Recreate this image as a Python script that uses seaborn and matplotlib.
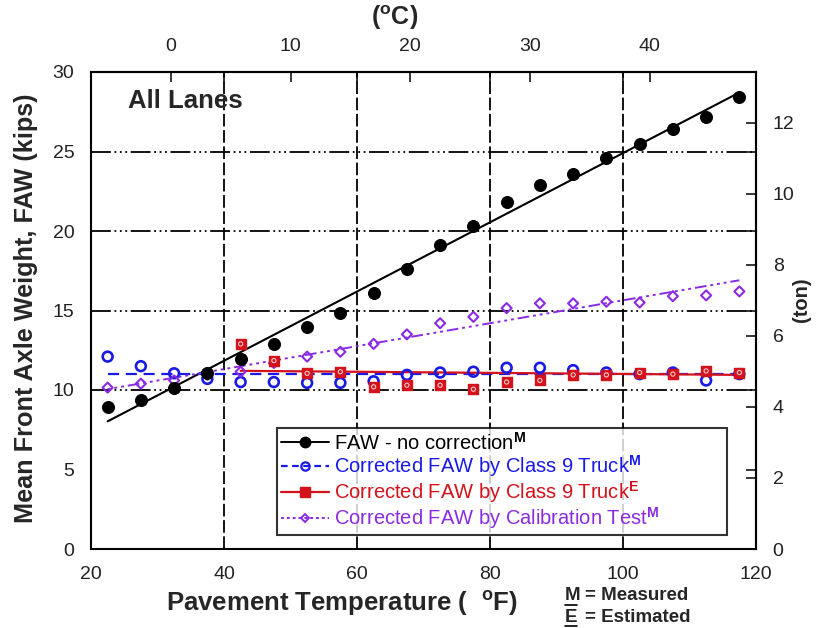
import numpy as np
import pandas as pd
import matplotlib
matplotlib.use("Agg")
import matplotlib.pyplot as plt
from matplotlib.lines import Line2D
import seaborn as sns

# ---------------- data ----------------
temp_f = [22.5, 27.5, 32.5, 37.5, 42.5, 47.5, 52.5, 57.5, 62.5, 67.5,
          72.5, 77.5, 82.5, 87.5, 92.5, 97.5, 102.5, 107.5, 112.5, 117.5]
faw_no_corr = [8.9, 9.4, 10.15, 11.05, 11.95, 12.9, 13.95, 14.85, 16.1, 17.6,
               19.1, 20.3, 21.8, 22.9, 23.6, 24.6, 25.5, 26.4, 27.2, 28.4]
faw_class9_meas = [12.1, 11.5, 11.05, 10.7, 10.5, 10.5, 10.45, 10.45, 10.55, 10.95,
                   11.1, 11.15, 11.4, 11.4, 11.25, 11.1, 11.0, 11.1, 10.6, 11.0]
temp_f_est = [42.5, 47.5, 52.5, 57.5, 62.5, 67.5, 72.5, 77.5,
              82.5, 87.5, 92.5, 97.5, 102.5, 107.5, 112.5, 117.5]
faw_class9_est = [12.9, 11.85, 11.05, 11.15, 10.2, 10.3, 10.3, 10.05,
                  10.5, 10.6, 10.95, 10.95, 11.1, 11.0, 11.2, 11.1]
faw_calib = [10.15, 10.4, 10.6, 10.95, 11.15, 11.7, 12.1, 12.4, 12.9, 13.5,
             14.2, 14.6, 15.15, 15.45, 15.45, 15.55, 15.5, 15.9, 15.95, 16.2]

# trend line coefficients (intercept, slope)
fit_no_corr = (3.13, 0.2177)
fit_class9_meas = (11.0, 0.0)
fit_class9_est = (11.35, -0.0034)
fit_calib = (8.43, 0.0721)

x_ticks = [20, 40, 60, 80, 100, 120]
y_ticks = [0, 5, 10, 15, 20, 25, 30]
c_ticks = [0, 10, 20, 30, 40]
ton_ticks = [0, 2, 4, 6, 8, 10, 12]
v_grid = [40, 60, 80, 100]
h_grid = [10, 15, 20, 25]
KIPS_PER_TON = 2.233

labels = [r"FAW - no correction$^{\mathbf{M}}$",
          r"Corrected FAW by Class 9 Truck$^{\mathbf{M}}$",
          r"Corrected FAW by Class 9 Truck$^{\mathbf{E}}$",
          r"Corrected FAW by Calibration Test$^{\mathbf{M}}$"]

BLACK = "#000000"
BLUE = "#1a1ae6"
RED = "#d3121c"
PURPLE = "#8a2be2"

# ---------------- style ----------------
sns.set_theme(style="white")
plt.rcParams["font.family"] = ["Liberation Sans", "DejaVu Sans"]
plt.rcParams["mathtext.fontset"] = "custom"
plt.rcParams["mathtext.rm"] = "Liberation Sans"
plt.rcParams["mathtext.bf"] = "Liberation Sans:bold"

fig = plt.figure(figsize=(8.17, 6.28), dpi=100)
ax = fig.add_axes([91 / 817, 1 - 549 / 628, 665 / 817, 477 / 628])

# grid lines
for gx in v_grid:
    ax.axvline(gx, color="black", lw=1.3, linestyle=(0, (7, 2)), zorder=1)
for gy in h_grid:
    ax.axhline(gy, color="black", lw=1.3, linestyle=(0, (11, 2, 1, 2, 1, 2, 1, 2)), zorder=1)

df = pd.DataFrame({"T": temp_f, "no": faw_no_corr, "c9m": faw_class9_meas, "cal": faw_calib})
dfe = pd.DataFrame({"T": temp_f_est, "c9e": faw_class9_est})

def fit_df(xs, coef):
    xs = np.asarray(xs, dtype=float)
    return pd.DataFrame({"T": xs, "y": coef[0] + coef[1] * xs})

# fit lines
sns.lineplot(data=fit_df(temp_f, fit_no_corr), x="T", y="y", ax=ax, color=BLACK, lw=1.5, zorder=3)
sns.lineplot(data=fit_df(temp_f, fit_class9_meas), x="T", y="y", ax=ax, color=BLUE, lw=1.6,
             linestyle=(0, (5, 3)), zorder=3)
sns.lineplot(data=fit_df(temp_f_est, fit_class9_est), x="T", y="y", ax=ax, color=RED, lw=1.6, zorder=3)
sns.lineplot(data=fit_df(temp_f, fit_calib), x="T", y="y", ax=ax, color=PURPLE, lw=1.4,
             linestyle=(0, (1.5, 2, 1.5, 2, 1.5, 2, 6, 2)), zorder=3)

# points
sns.scatterplot(data=df, x="T", y="c9m", ax=ax, marker="o", s=50, facecolor="none",
                edgecolor=BLUE, linewidth=1.9, zorder=4)
sns.scatterplot(data=df, x="T", y="cal", ax=ax, marker="D", s=26, facecolor="none",
                edgecolor=PURPLE, linewidth=1.5, zorder=4)
sns.scatterplot(data=dfe, x="T", y="c9e", ax=ax, marker="s", s=60, color=RED,
                edgecolor=RED, linewidth=1.0, zorder=5)
sns.scatterplot(data=dfe, x="T", y="c9e", ax=ax, marker="o", s=9, facecolor="none",
                edgecolor="#f6caca", linewidth=0.8, zorder=6)
sns.scatterplot(data=df, x="T", y="no", ax=ax, marker="o", s=75, color=BLACK,
                edgecolor=BLACK, zorder=6)

ax.set_xlim(20, 120)
ax.set_ylim(0, 30)
ax.set_xticks(x_ticks)
ax.set_yticks(y_ticks)
ax.tick_params(axis="both", direction="in", length=7, width=1.3, labelsize=14,
               top=True, right=True, labelcolor="#222222", pad=12)
for sp in ax.spines.values():
    sp.set_linewidth(1.5)
    sp.set_color("black")

ax.set_xlabel(r"Pavement Temperature (  $^{\mathbf{o}}$F)", fontsize=18.5, fontweight="bold")
ax.xaxis.set_label_coords(0.378, -0.083)
ax.set_ylabel("Mean Front Axle Weight, FAW (kips)", fontsize=18.2, fontweight="bold")
ax.yaxis.set_label_coords(-0.079, 0.505)

# top axis in degC
secx = ax.secondary_xaxis("top", functions=(lambda f: (f - 32) / 1.8, lambda c: c * 1.8 + 32))
secx.set_xticks(c_ticks)
secx.tick_params(direction="in", length=7, width=1.3, labelsize=14, labelcolor="#222222", pad=12)
secx.spines["top"].set_linewidth(1.5)
fig.text(395 / 817, 1 - 18 / 628, r"($^{\mathbf{o}}$C)", fontsize=18, fontweight="bold",
         ha="center", va="center")

# right axis in ton
secy = ax.secondary_yaxis("right", functions=(lambda k: k / KIPS_PER_TON, lambda t: t * KIPS_PER_TON))
secy.set_yticks(ton_ticks)
secy.tick_params(direction="in", length=7, width=1.3, labelsize=14, labelcolor="#222222", pad=12)
secy.spines["right"].set_linewidth(1.5)
fig.text(801 / 817, 1 - 300 / 628, "(ton)", fontsize=14.5, fontweight="bold", rotation=90,
         ha="center", va="center")

ax.text(0.056, 0.94, "All Lanes", transform=ax.transAxes, fontsize=18.5, fontweight="bold",
        ha="left", va="center")

# legend
handles = [
    Line2D([], [], color=BLACK, lw=1.4, marker="o", markersize=7.5, markerfacecolor=BLACK),
    Line2D([], [], color=BLUE, lw=1.6, linestyle=(0, (3, 2)), marker="o", markersize=6,
           markerfacecolor="none", markeredgewidth=1.6),
    Line2D([], [], color=RED, lw=1.6, marker="s", markersize=6.5, markerfacecolor=RED),
    Line2D([], [], color=PURPLE, lw=1.4, linestyle=(0, (1.5, 1.5)), marker="D", markersize=4.5,
           markerfacecolor="none", markeredgewidth=1.4),
]
leg = ax.legend(handles, labels, loc="lower left", bbox_to_anchor=(0.279, 0.029, 0.677, 0.2),
                mode="expand", fontsize=14.5, frameon=True, fancybox=False, edgecolor="black",
                handlelength=2.4, handletextpad=0.25, labelspacing=0.0,
                borderpad=0.2, borderaxespad=0)
leg.get_frame().set_linewidth(1.5)
leg.set_zorder(10)
for txt, c in zip(leg.get_texts(), [BLACK, BLUE, RED, PURPLE]):
    txt.set_color(c)

# notes
for ypx, letter, rest in [(596, "M", "= Measured"), (617, "E", "= Estimated")]:
    fig.text(565 / 817, 1 - ypx / 628, letter, fontsize=13.5, fontweight="bold",
             ha="left", va="center")
    fig.text(585 / 817, 1 - ypx / 628, rest, fontsize=13.5, fontweight="bold",
             ha="left", va="center")
    fig.add_artist(Line2D([565 / 817, 577 / 817], [1 - (ypx + 9) / 628] * 2,
                          color="black", lw=1.2, transform=fig.transFigure))

fig.savefig("out.png", dpi=100)
